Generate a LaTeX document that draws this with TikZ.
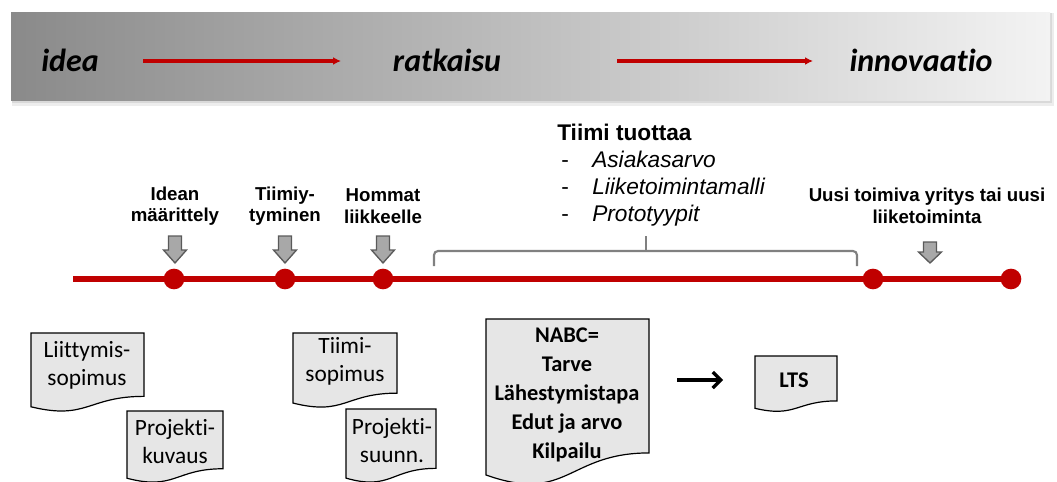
\documentclass[tikz,border=0pt]{standalone}
\usepackage{fontspec}
\setmainfont{Liberation Sans}
\newfontfamily\calibri[Ligatures=NoCommon]{Carlito}
\usetikzlibrary{arrows.meta}
\definecolor{tlred}{HTML}{C00000}
\definecolor{bandL}{HTML}{8A8A8A}
\definecolor{bandR}{HTML}{F3F3F3}
\definecolor{docfill}{HTML}{E6E6E6}
\definecolor{arrfill}{HTML}{A8A8A8}
\definecolor{arrdraw}{HTML}{5A5A5A}
\newcommand\mydoc[4]{%
  \draw[docsty] (#1,#2) -- (#1+#3,#2) -- (#1+#3,#2+0.802*#4)
    .. controls (#1+0.5*#3,#2+0.802*#4) and (#1+0.5*#3,#2+1.1075*#4) .. (#1,#2+0.934*#4) -- cycle;}
\newcommand\garrow[4]{%
  \draw[garr] (#1-6.5,#2) -- (#1+6.5,#2) -- (#1+6.5,#3) -- (#1+11.5,#3) -- (#1,#4) -- (#1-11.5,#3) -- (#1-6.5,#3) -- cycle;}
\begin{document}
\begin{tikzpicture}[x=0.75pt,y=-0.75pt,
  bantext/.style={font=\calibri\bfseries\itshape\fontsize{24}{28}\selectfont},
  banarrow/.style={draw=tlred,line width=2.3pt,-{Latex[length=6pt,width=6pt]}},
  tline/.style={draw=tlred,line width=5pt},
  tdot/.style={circle,fill=tlred,inner sep=0pt,minimum size=15.5pt},
  garr/.style={fill=arrfill,draw=arrdraw,line width=1pt,line join=miter},
  toplab/.style={font=\bfseries\fontsize{14}{16.2}\selectfont,align=center},
  docsty/.style={fill=docfill,draw=black,line width=0.9pt},
  doctext/.style={font=\calibri\fontsize{17.5}{21}\selectfont,align=center},
  docbold/.style={font=\calibri\bfseries\fontsize{16.8}{21.75}\selectfont,align=center},
  brace/.style={draw=black!50,line width=1.6pt,rounded corners=3pt},
  listtext/.style={font=\fontsize{17}{20}\selectfont,anchor=base west,inner sep=0pt}
]
\useasboundingbox (0,0) rectangle (1057,482);
% banner with shadow
\fill[black!7] (12,13) rectangle (1054,106);
\fill[black!15] (12,13) rectangle (1052,103);
\shade[left color=bandL,right color=bandR] (11,12) rectangle (1050,100);
\node[bantext] (idea) at (70,60) {idea};
\node[bantext] (ratk) at (447,60) {ratkaisu};
\node[bantext] (inno) at (921,60) {innovaatio};
\coordinate (a1s) at (143,61);
\coordinate (a1e) at (341,61);
\coordinate (a2s) at (617,61);
\coordinate (a2e) at (813,61);
\draw[banarrow] (a1s) -- (a1e);
\draw[banarrow] (a2s) -- (a2e);
% Tiimi tuottaa
\node[listtext,font=\bfseries\fontsize{17}{20}\selectfont] (tt) at (557,140) {Tiimi tuottaa};
\node[listtext] (b1) at (561,167) {-};
\node[listtext] (b2) at (561,194) {-};
\node[listtext] (b3) at (561,221) {-};
\node[listtext,font=\itshape\fontsize{17}{20}\selectfont] (l1) at (592,167) {Asiakasarvo};
\node[listtext,font=\itshape\fontsize{17}{20}\selectfont] (l2) at (592,194) {Liiketoimintamalli};
\node[listtext,font=\itshape\fontsize{17}{20}\selectfont] (l3) at (592,221) {Prototyypit};
% brace
\draw[brace] (434,266) -- (434,251) -- (857,251) -- (857,266);
\draw[brace] (646,251) -- (646,236);
% timeline
\coordinate (t0) at (73,279);
\coordinate (t9) at (1012,279);
\draw[tline] (t0) -- (t9);
\node[tdot] (d1) at (174,279) {};
\node[tdot] (d2) at (285,279) {};
\node[tdot] (d3) at (383,279) {};
\node[tdot] (d4) at (873,279) {};
\node[tdot] (d5) at (1011,279) {};
% labels and block arrows
\node[toplab] (lab1) at (175,206) {Idean\\määrittely};
\node[toplab] (lab2) at (285,206) {Tiimiy-\\tyminen};
\node[toplab] (lab3) at (383,206) {Hommat\\liikkeelle};
\node[toplab] (lab4) at (927,206) {Uusi toimiva yritys tai uusi\\liiketoiminta};
\garrow{175}{236}{250}{263}
\garrow{285}{236}{250}{263}
\garrow{383}{236}{250}{263}
\garrow{930}{242}{252}{263}
% documents
\mydoc{31}{333}{113}{79}
\node[doctext] (dA) at (87,365) {Liittymis-\\sopimus};
\mydoc{127}{411}{96}{72}
\node[doctext] (dB) at (175,441) {Projekti-\\kuvaus};
\mydoc{293}{333}{104}{75}
\node[doctext] (dC) at (345,361) {Tiimi-\\sopimus};
\mydoc{346}{409}{90}{74}
\node[doctext] (dD) at (392,440) {Projekti-\\suunn.};
\mydoc{486}{319}{163}{167}
\node[docbold] (dE) at (567,395) {NABC=\\Tarve\\Lähestymistapa\\Edut ja arvo\\Kilpailu};
\mydoc{755}{356}{82}{56}
\node[docbold] (dF) at (794,380) {LTS};
\coordinate (bas) at (677,380);
\coordinate (bae) at (723,380);
\draw[line width=2.6pt,-{Straight Barb[length=6pt,width=12pt,line width=2.4pt]}] (bas) -- (bae);
\end{tikzpicture}
\end{document}
